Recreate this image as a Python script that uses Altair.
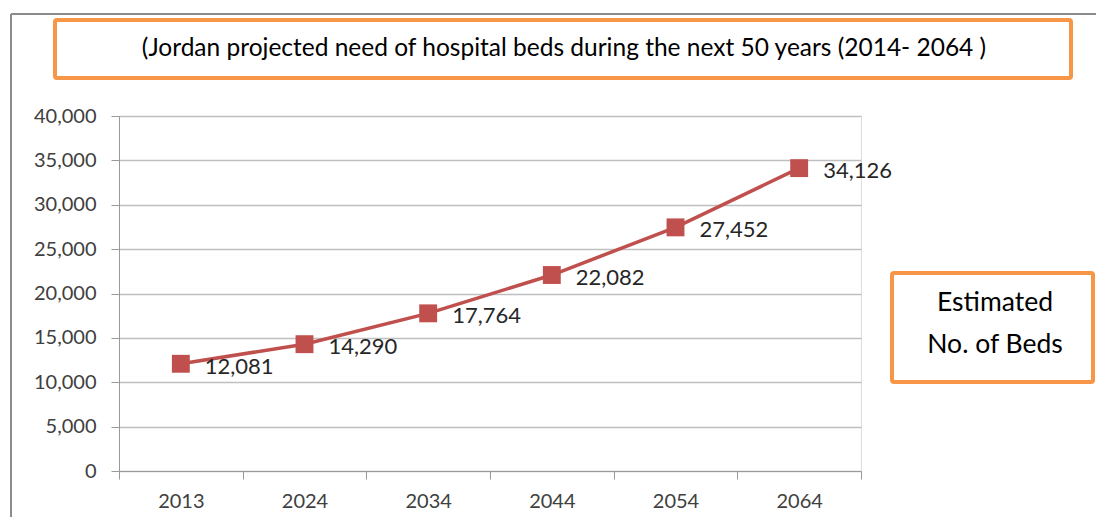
import altair as alt
import pandas as pd

years = ["2013", "2024", "2034", "2044", "2054", "2064"]
beds = [12081, 14290, 17764, 22082, 27452, 34126]
labels = ["12,081", "14,290", "17,764", "22,082", "27,452", "34,126"]
title_text = "(Jordan projected need of hospital beds during the next 50 years (2014- 2064 )"
legend_lines = ["Estimated", "No. of Beds"]

df = pd.DataFrame({"year": years, "beds": beds, "label": labels})

FONT = "Lato"
RED = "#C0504D"
ORANGE = "#F79646"

base = alt.Chart(df)

x_enc = alt.X("year:N", sort=years, title=None,
              scale=alt.Scale(paddingInner=0, paddingOuter=0),
              axis=alt.Axis(labelAngle=0, tickBand="extent", grid=False,
                            tickSize=8, labelPadding=12, labelFontSize=20,
                            labelColor="#404040", labelFont=FONT,
                            domainColor="#999999", tickColor="#999999"))
y_enc = alt.Y("beds:Q", title=None,
              scale=alt.Scale(domain=[0, 40000], nice=False),
              axis=alt.Axis(values=list(range(0, 40001, 5000)), format=",.0f",
                            tickSize=8, labelPadding=15, labelFontSize=20,
                            labelColor="#404040", labelFont=FONT,
                            gridColor="#BFBFBF", gridWidth=1.3,
                            domainColor="#999999", tickColor="#999999"))

line = base.mark_line(color=RED, strokeWidth=3.5).encode(x=x_enc, y=y_enc)
pts = base.mark_point(shape="square", filled=True, opacity=1, size=320,
                      color=RED).encode(x=x_enc, y=y_enc)
txt = base.mark_text(align="left", baseline="middle", dx=24, dy=3,
                     fontSize=22, font=FONT, color="#262626").encode(
    x=x_enc, y=y_enc, text="label:N")

one = alt.Data(values=[{"a": 1}])

border_top = alt.Chart(one).mark_rule(color="#8C8C8C", strokeWidth=2).encode(
    x=alt.value(-108), x2=alt.value(990), y=alt.value(-102))
border_left = alt.Chart(one).mark_rule(color="#8C8C8C", strokeWidth=2).encode(
    x=alt.value(-108), y=alt.value(-102), y2=alt.value(420))

title_box = alt.Chart(one).mark_rect(fill="white", stroke=ORANGE, strokeWidth=4,
                                     cornerRadius=2).encode(
    x=alt.value(-64), x2=alt.value(952), y=alt.value(-96), y2=alt.value(-38))
title_t = alt.Chart(one).mark_text(fontSize=24.5, font=FONT, color="black",
                                   align="center", baseline="middle").encode(
    x=alt.value(445), y=alt.value(-67), text=alt.value(title_text))

leg_box = alt.Chart(one).mark_rect(fill="white", stroke=ORANGE, strokeWidth=4,
                                   cornerRadius=2).encode(
    x=alt.value(773), x2=alt.value(974), y=alt.value(157), y2=alt.value(266))
leg_t1 = alt.Chart(one).mark_text(fontSize=26.5, font=FONT, color="black",
                                  align="center", baseline="middle").encode(
    x=alt.value(876), y=alt.value(187), text=alt.value(legend_lines[0]))
leg_t2 = alt.Chart(one).mark_text(fontSize=26.5, font=FONT, color="black",
                                  align="center", baseline="middle").encode(
    x=alt.value(876), y=alt.value(229), text=alt.value(legend_lines[1]))

chart = alt.layer(
    line, pts, txt,
    border_top, border_left, title_box, title_t, leg_box, leg_t1, leg_t2
).properties(
    width=742, height=355,
    autosize=alt.AutoSizeParams(type="none"),
    padding={"left": 111, "top": 108, "right": 235, "bottom": 46},
).configure_view(stroke=None).configure(background="white")

chart.save("out.html", embed_options={"renderer": "svg", "actions": False})
